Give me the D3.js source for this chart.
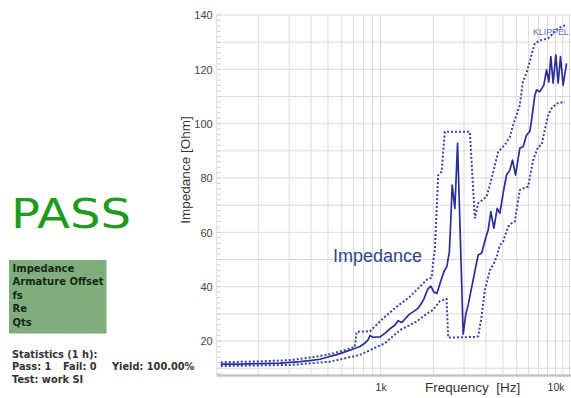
<!DOCTYPE html>
<html>
<head>
<meta charset="utf-8">
<script src="https://cdn.jsdelivr.net/npm/d3@7/dist/d3.min.js"></script>
<style>
  html, body { margin: 0; padding: 0; background: #fff; }
  svg { display: block; }
</style>
</head>
<body>
<svg id="chart" width="571" height="398"></svg>
<script>
// Measured impedance curve (Hz, Ohm)
const freq = [122, 157, 204, 266, 346, 405, 450, 507, 563, 625, 686, 761, 813, 846, 869, 904,
  991, 1058, 1130, 1207, 1256, 1323, 1395, 1470, 1570, 1633, 1699, 1768, 1863, 1938, 2017, 2098,
  2182, 2300, 2393, 2473, 2522, 2565, 2658, 2754, 2965, 3072, 3167, 3381, 3613, 3777, 4034, 4121,
  4270, 4441, 4639, 4806, 5019, 5248, 5482, 5679, 5908, 6252, 6530, 6830, 7132, 7295, 7617, 7789,
  8134, 8575, 8886, 9158, 9399, 9690, 10040, 10350, 10680, 11050, 11560];
const impedance = [11.5, 11.5, 11.7, 11.9, 12.4, 12.9, 13.3, 14.2, 15.0, 16.0, 16.9, 18.0, 19.2, 20.3, 22.0, 21.4,
  21.5, 22.8, 24.5, 25.8, 27.5, 26.8, 28.5, 30.0, 31.2, 32.0, 33.5, 35.5, 39.2, 40.2, 38.0, 37.5,
  41.0, 45.5, 47.5, 53.0, 65.0, 77.4, 68.8, 92.8, 22.5, 30.0, 33.3, 42.5, 51.7, 52.3, 59.0, 60.9,
  67.6, 61.5, 68.8, 67.0, 74.4, 81.1, 82.9, 86.6, 81.1, 91.0, 91.5, 95.8, 97.2, 101.3, 110.5, 112.4,
  111.8, 114.2, 119.8, 115.4, 124.7, 114.9, 125.3, 114.9, 124.7, 114.2, 122.2];

// Upper tolerance limit
const upperFreq = [122, 204, 303, 405, 513, 625, 713, 729, 869, 1035, 1234, 1470, 1606, 1832, 1956, 1998,
  2043, 2134, 2232, 2330, 3238, 3459, 3613, 4034, 4214, 4699, 5132, 5482, 5724, 6252, 6503, 6855,
  7295, 7617, 8318, 9074, 9690, 10350, 11450];
const upperLimit = [12.2, 12.5, 13.0, 14.0, 15.1, 16.7, 17.9, 23.4, 23.6, 28.4, 32.6, 36.3, 38.8, 42.5, 43.3, 49.0,
  53.5, 81.1, 82.3, 97.0, 97.0, 65.2, 70.7, 73.1, 77.4, 89.6, 92.2, 95.1, 99.5, 106.9, 115.3, 119.0,
  125.3, 129.6, 130.8, 131.4, 133.3, 135.1, 136.3];

// Lower tolerance limit
const lowerFreq = [122, 303, 513, 761, 1058, 1289, 1606, 1832, 1998, 2182, 2383, 2434, 3537, 3613, 3777, 3945,
  4214, 4400, 4603, 4806, 5019, 5359, 5605, 5853, 6114, 6252, 6530, 6974, 7447, 7953, 8318, 9074,
  9487, 10132, 11302];
const lowerLimit = [10.8, 11.2, 12.4, 14.9, 19.2, 24.0, 27.2, 30.0, 31.5, 34.7, 35.5, 21.3, 21.5, 21.8, 28.9, 38.8,
  46.1, 48.0, 51.0, 55.3, 56.6, 62.1, 63.3, 63.9, 71.9, 75.6, 76.2, 76.8, 86.6, 91.5, 92.2, 103.2,
  105.6, 107.4, 108.1];

// Axis ticks
const yTickValues = [20, 40, 60, 80, 100, 120, 140];
const xTickValues = [1000, 10000];
const xTickLabels = ["1k", "10k"];
const xGridValues = [200, 300, 400, 500, 600, 700, 800, 900,
  1000, 2000, 3000, 4000, 5000, 6000, 7000, 8000, 9000, 10000, 11000, 12000];
const yGridValues = [10, 20, 30, 40, 50, 60, 70, 80, 90, 100, 110, 120, 130, 140];

// Side panel texts
const verdict = "PASS";
const testItems = ["Impedance", "Armature Offset", "fs", "Re", "Qts"];
const statsTitle = "Statistics (1 h):";
const statsCounts = ["Pass: 1", "Fail: 0", "Yield: 100.00%"];
const statsTest = "Test: work SI";

const svg = d3.select("#chart");
const plot = { left: 216.7, right: 571, top: 15, bottom: 375 };

const x = d3.scaleLog().domain([115.6, 12260]).range([plot.left, plot.right]);
const y = d3.scaleLinear().domain([7.5, 140]).range([plot.bottom, plot.top]);

const sans = "Liberation Sans, Arial, sans-serif";
const verdana = "DejaVu Sans, Verdana, sans-serif";

// Grid
const grid = svg.append("g");
grid.selectAll("line.v").data(xGridValues).join("line")
  .attr("x1", d => x(d)).attr("x2", d => x(d))
  .attr("y1", plot.top).attr("y2", plot.bottom)
  .attr("stroke", "#dcdcdc").attr("stroke-width", 1);
grid.selectAll("line.h").data(yGridValues).join("line")
  .attr("x1", plot.left).attr("x2", plot.right)
  .attr("y1", d => y(d)).attr("y2", d => y(d))
  .attr("stroke", "#dcdcdc").attr("stroke-width", 1);

// Small ticks along the left edge, every 2 Ohm
const minorY = d3.range(8, 141, 2);
grid.selectAll("line.m").data(minorY).join("line")
  .attr("x1", plot.left).attr("x2", plot.left + 4)
  .attr("y1", d => y(d)).attr("y2", d => y(d))
  .attr("stroke", "#cfcfcf").attr("stroke-width", 1);
grid.append("line")
  .attr("x1", plot.left).attr("x2", plot.left)
  .attr("y1", plot.top).attr("y2", plot.bottom)
  .attr("stroke", "#e0e0e0");

// Bottom axis bar
svg.append("line")
  .attr("x1", plot.left).attr("x2", plot.right)
  .attr("y1", plot.bottom + 0.5).attr("y2", plot.bottom + 0.5)
  .attr("stroke", "#c4c4c4").attr("stroke-width", 2.5);

// Axis labels via d3 axes
const yAxis = svg.append("g").attr("transform", `translate(${plot.left - 3},0)`)
  .call(d3.axisLeft(y).tickValues(yTickValues).tickSize(0).tickPadding(1));
yAxis.select(".domain").remove();
yAxis.selectAll("text").attr("font-family", sans).attr("font-size", 11)
  .attr("fill", "#444").attr("dy", "0.35em");

const xAxis = svg.append("g").attr("transform", `translate(0,${plot.bottom + 7})`)
  .call(d3.axisBottom(x).tickValues(xTickValues)
    .tickFormat((d, i) => xTickLabels[i]).tickSize(0).tickPadding(2));
xAxis.select(".domain").remove();
xAxis.selectAll("text").attr("font-family", sans).attr("font-size", 10.5)
  .attr("fill", "#333").attr("dy", "0.71em");

svg.append("text").attr("x", 425).attr("y", 392)
  .attr("font-family", sans).attr("font-size", 13.5).attr("fill", "#333")
  .attr("xml:space", "preserve").text("Frequency  [Hz]");

svg.append("text")
  .attr("transform", "translate(190,170) rotate(-90)")
  .attr("text-anchor", "middle")
  .attr("font-family", sans).attr("font-size", 13.5).attr("fill", "#333")
  .text("Impedance [Ohm]");

// Curves
const line = d3.line().x(d => x(d[0])).y(d => y(d[1]));
const zip = (a, b) => a.map((v, i) => [v, b[i]]);

svg.append("path").datum(zip(upperFreq, upperLimit))
  .attr("d", line).attr("fill", "none")
  .attr("stroke", "#3d42a6").attr("stroke-width", 2).attr("stroke-dasharray", "2,2");
svg.append("path").datum(zip(lowerFreq, lowerLimit))
  .attr("d", line).attr("fill", "none")
  .attr("stroke", "#3d42a6").attr("stroke-width", 2).attr("stroke-dasharray", "2,2");
svg.append("path").datum(zip(freq, impedance))
  .attr("d", line).attr("fill", "none")
  .attr("stroke", "#2a2e98").attr("stroke-width", 1.7).attr("stroke-linejoin", "round");

// Curve name
svg.append("text").attr("x", 333).attr("y", 262)
  .attr("font-family", sans).attr("font-size", 18).attr("fill", "#33458c")
  .text("Impedance");

svg.append("text").attr("x", 533).attr("y", 35)
  .attr("font-family", sans).attr("font-size", 8.8).attr("fill", "#5470cc")
  .text("KLIPPEL");

// Verdict panel
svg.append("text").attr("x", 11).attr("y", 228)
  .attr("font-family", verdana).attr("font-size", 40).attr("fill", "#1e9b1e")
  .attr("textLength", 120).attr("lengthAdjust", "spacingAndGlyphs")
  .text(verdict);

svg.append("rect").attr("x", 9).attr("y", 260).attr("width", 97.5).attr("height", 73.5)
  .attr("fill", "#7fae7c");
svg.append("g").selectAll("text").data(testItems).join("text")
  .attr("x", 12.5).attr("y", (d, i) => 272 + i * 13.4)
  .attr("font-family", verdana).attr("font-weight", "bold").attr("font-size", 10)
  .attr("fill", "#15281a").text(d => d);

const stats = svg.append("g").attr("font-family", verdana).attr("font-weight", "bold")
  .attr("font-size", 9.8).attr("fill", "#333");
stats.append("text").attr("x", 12).attr("y", 357.5).text(statsTitle);
stats.selectAll("text.c").data(statsCounts).join("text")
  .attr("x", (d, i) => [12, 63, 112][i]).attr("y", 370).text(d => d);
stats.append("text").attr("x", 12).attr("y", 382.5).text(statsTest);
</script>
</body>
</html>
